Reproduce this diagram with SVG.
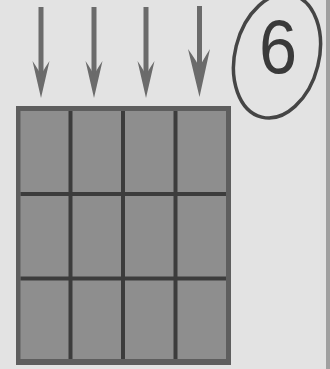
<svg xmlns="http://www.w3.org/2000/svg" width="330" height="369" viewBox="0 0 330 369">
  <defs>
    <style>
      .shaft { stroke: #6b6b6b; stroke-width: 5; }
      .head { fill: #6b6b6b; }
      .gline { stroke: #3c3c3c; stroke-width: 4; }
    </style>
  </defs>
  <rect x="0" y="0" width="330" height="369" fill="#e3e3e3"/>
  <rect x="326" y="0" width="4" height="369" fill="#a0a0a0"/>

  <g id="connectors">
    <line class="shaft" x1="41" y1="7" x2="41" y2="80"/>
    <path class="head" d="M41,98 L49.5,61 Q42,72 41,76 Q40,72 32.5,61 Z"/>
    <line class="shaft" x1="94" y1="7" x2="94" y2="80"/>
    <path class="head" d="M94,98 L102.5,61 Q95,72 94,76 Q93,72 85.5,61 Z"/>
    <line class="shaft" x1="146" y1="7" x2="146" y2="80"/>
    <path class="head" d="M146,98 L154.5,61 Q147,72 146,76 Q145,72 137.5,61 Z"/>
    <line class="shaft" x1="199.5" y1="6" x2="199.5" y2="75"/>
    <path class="head" d="M199.5,97 L210,49 Q201,63 199.5,68 Q198,63 188,49 Z"/>
  </g>

  <g id="grid">
    <rect x="16" y="106" width="215" height="259" fill="#5e5e5e"/>
    <rect x="20.5" y="111" width="205.5" height="248" fill="#8e8e8e"/>
    <line class="gline" x1="70.5" y1="111" x2="70.5" y2="359"/>
    <line class="gline" x1="123" y1="111" x2="123" y2="359"/>
    <line class="gline" x1="175.5" y1="111" x2="175.5" y2="359"/>
    <line class="gline" x1="20.5" y1="194" x2="226" y2="194"/>
    <line class="gline" x1="20.5" y1="278.5" x2="226" y2="278.5"/>
  </g>

  <g id="label">
    <ellipse cx="277" cy="56" rx="42" ry="63" transform="rotate(14 277 56)" fill="none" stroke="#454545" stroke-width="3.5"/>
    <text x="278" y="73" text-anchor="middle" font-family="Liberation Sans, Arial, sans-serif" font-size="76" fill="#3a3a3a" transform="translate(278 0) scale(0.9 1) translate(-278 0)">6</text>
  </g>
</svg>
